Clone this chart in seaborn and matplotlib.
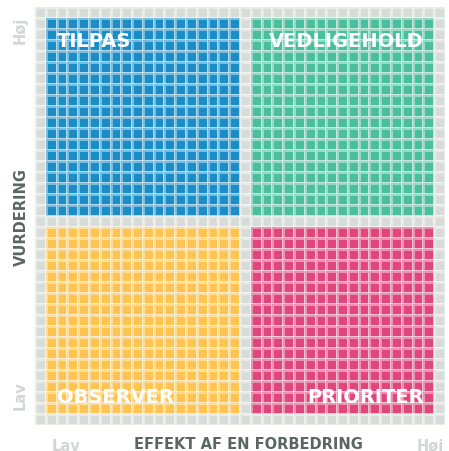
import numpy as np
import pandas as pd
import matplotlib
matplotlib.use("Agg")
import matplotlib.pyplot as plt
import seaborn as sns
from matplotlib.colors import ListedColormap

# quadrant names and colours (0 = grey border)
quadrants = ["TILPAS", "VEDLIGEHOLD", "OBSERVER", "PRIORITER"]
quad_colors = ["#d8dcd9", "#1b8dc6", "#4bbe9c", "#fec451", "#e0467b"]

# grid layout in cells: left/right column spans, top/bottom row spans
left_cols = (1, 19)
right_cols = (20, 37)
top_rows = (1, 19)
bottom_rows = (20, 37)
n_cells = 38

x_ticklabels = ["Lav", "Høj"]
y_ticklabels = ["Høj", "Lav"]

grid = np.zeros((n_cells, n_cells), dtype=int)
grid[top_rows[0]:top_rows[1], left_cols[0]:left_cols[1]] = 1
grid[top_rows[0]:top_rows[1], right_cols[0]:right_cols[1]] = 2
grid[bottom_rows[0]:bottom_rows[1], left_cols[0]:left_cols[1]] = 3
grid[bottom_rows[0]:bottom_rows[1], right_cols[0]:right_cols[1]] = 4
df = pd.DataFrame(grid)

sns.set_style("white")
plt.rcParams["font.family"] = ["DejaVu Sans"]

fig = plt.figure(figsize=(4.49, 4.52), dpi=100)
ax = fig.add_axes([0.078, 0.0575, 0.913, 0.9248])

sns.heatmap(df, cmap=ListedColormap(quad_colors), vmin=-0.5, vmax=4.5, cbar=False,
            linewidths=1.0, linecolor=(1, 1, 1, 0.42), square=False, ax=ax)

# quadrant labels
txt = dict(color="white", fontsize=14, fontweight="bold", va="center")
ax.text(left_cols[0] + 1, top_rows[0] + 2, quadrants[0], ha="left", **txt)
ax.text(right_cols[1] - 1, top_rows[0] + 2, quadrants[1], ha="right", **txt)
ax.text(left_cols[0] + 1, bottom_rows[1] - 1.6, quadrants[2], ha="left", **txt)
ax.text(right_cols[1] - 1, bottom_rows[1] - 1.6, quadrants[3], ha="right", **txt)

ax.set_xticks([2.9, 36.6])
ax.set_xticklabels(x_ticklabels, rotation=0)
ax.set_yticks([2.0, 35.2])
ax.set_yticklabels(y_ticklabels, rotation=90, va="center")
ax.tick_params(length=0, labelsize=10.5, labelcolor="#d2d6d4")
ax.tick_params(axis="x", pad=9)
ax.tick_params(axis="y", pad=5)
for t in ax.get_xticklabels() + ax.get_yticklabels():
    t.set_fontweight("bold")

ax.set_xlabel("EFFEKT AF EN FORBEDRING", fontsize=10.5, fontweight="bold", color="#5b6662")
ax.set_ylabel("VURDERING", fontsize=10.5, fontweight="bold", color="#5b6662")
ax.xaxis.set_label_coords(0.52, -0.045)
ax.yaxis.set_label_coords(-0.034, 0.5)
ax.xaxis.label.set_va("center")
ax.yaxis.label.set_va("center")

plt.savefig("out.png", dpi=100)
